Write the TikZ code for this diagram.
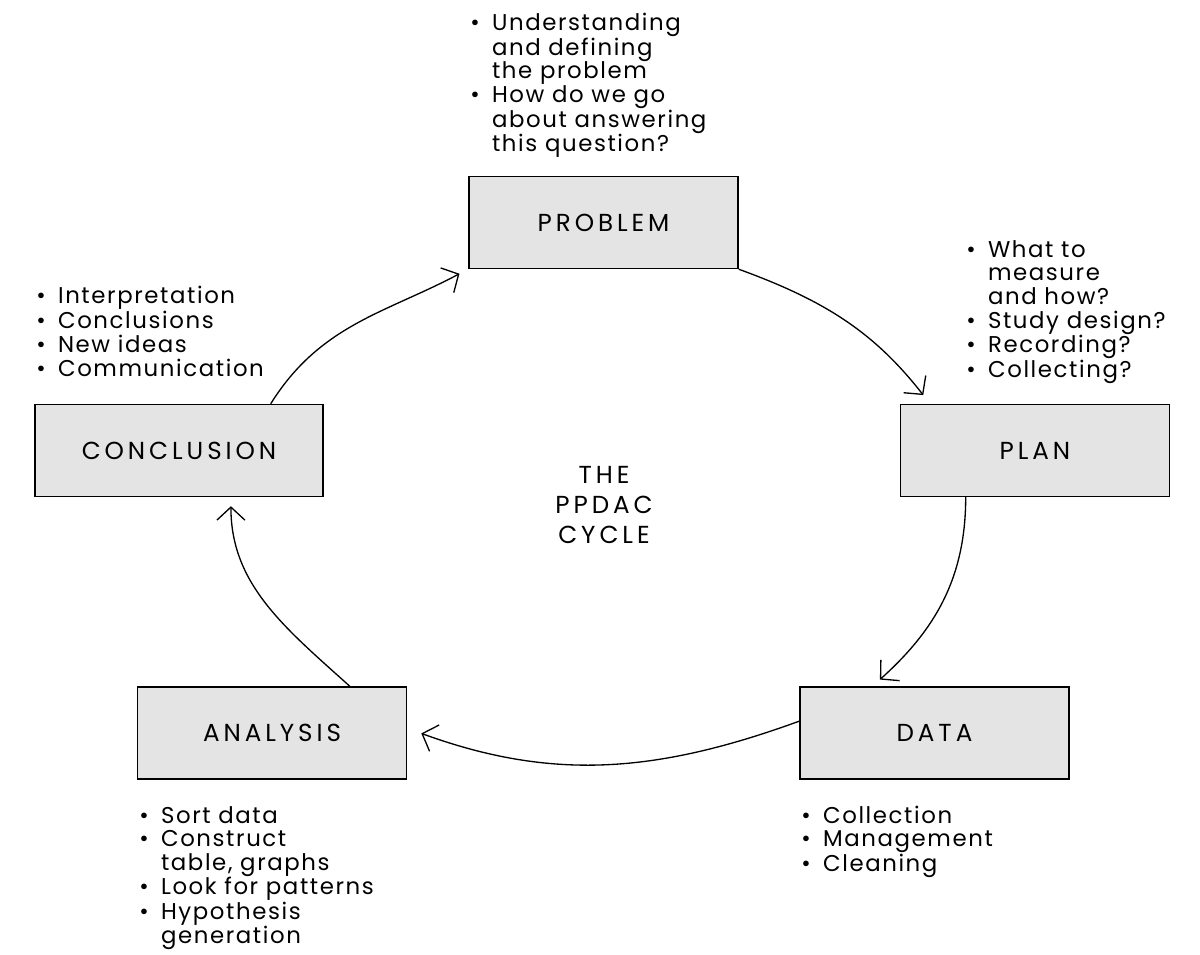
\documentclass[tikz,border=0pt]{standalone}
\usepackage{fontspec}
\setmainfont[LetterSpace=7]{Poppins}
\newfontfamily\capsfont[LetterSpace=16]{Poppins}
\usetikzlibrary{arrows.meta}
\definecolor{boxgray}{RGB}{228,228,228}

\begin{document}
\begin{tikzpicture}[x=0.02cm, y=0.02cm,
	stage/.style={draw, line width=0.85pt, fill=boxgray, minimum width=5.38cm, minimum height=1.84cm, font=\fontsize{14}{16}\capsfont},
	notes/.style={anchor=north west, inner sep=0pt, font=\fontsize{13}{13.2}\selectfont},
	cyclearrow/.style={-{Straight Barb[length=0.26cm, width=0.56cm]}, line width=0.75pt}]
	\useasboundingbox (0,0) rectangle (1200,955);

	\node (Problem) [stage] at (603.5,732.5) {PROBLEM};
	\node (Plan) [stage] at (1035,504.5) {PLAN};
	\node (Data) [stage] at (934.5,222) {DATA};
	\node (Analysis) [stage] at (272,222) {ANALYSIS};
	\node (Conclusion) [stage, minimum width=5.76cm] at (179,504.5) {CONCLUSION};
	\node (Cycle) [align=center, font=\fontsize{14}{17.3}\capsfont] at (604,450) {THE\\PPDAC\\CYCLE};

	\node (ProblemNotes) [notes] at (470,942) {\begin{tabular}{@{}l@{\hspace{7pt}}l@{}}
		\textbullet & Understanding\\ & and defining\\ & the problem\\
		\textbullet & How do we go\\ & about answering\\ & this question?\end{tabular}};
	\node (PlanNotes) [notes] at (966,715) {\begin{tabular}{@{}l@{\hspace{7pt}}l@{}}
		\textbullet & What to\\ & measure\\ & and how?\\
		\textbullet & Study design?\\ \textbullet & Recording?\\ \textbullet & Collecting?\end{tabular}};
	\node (DataNotes) [notes] at (801,149) {\begin{tabular}{@{}l@{\hspace{7pt}}l@{}}
		\textbullet & Collection\\ \textbullet & Management\\ \textbullet & Cleaning\end{tabular}};
	\node (AnalysisNotes) [notes] at (139,149) {\begin{tabular}{@{}l@{\hspace{7pt}}l@{}}
		\textbullet & Sort data\\ \textbullet & Construct\\ & table, graphs\\
		\textbullet & Look for patterns\\ \textbullet & Hypothesis\\ & generation\end{tabular}};
	\node (ConclusionNotes) [notes] at (36,669) {\begin{tabular}{@{}l@{\hspace{7pt}}l@{}}
		\textbullet & Interpretation\\ \textbullet & Conclusions\\
		\textbullet & New ideas\\ \textbullet & Communication\end{tabular}};

	\draw[cyclearrow, shorten >=0.2cm] (Conclusion.27) to[out=58, in=208] (Problem.199);
	\draw[cyclearrow, shorten >=0.22cm] (Problem.south east) to[out=-20, in=128] (Plan.156);
	\draw[cyclearrow, shorten >=0.2cm] (Plan.214) to[out=-90, in=42] (Data.143);
	\draw[cyclearrow, shorten >=0.3cm] (Data.175) to[out=200, in=-20] (Analysis.2);
	\draw[cyclearrow, shorten >=0.18cm] (Analysis.31) to[out=138, in=-90] (Conclusion.318);
\end{tikzpicture}
\end{document}
